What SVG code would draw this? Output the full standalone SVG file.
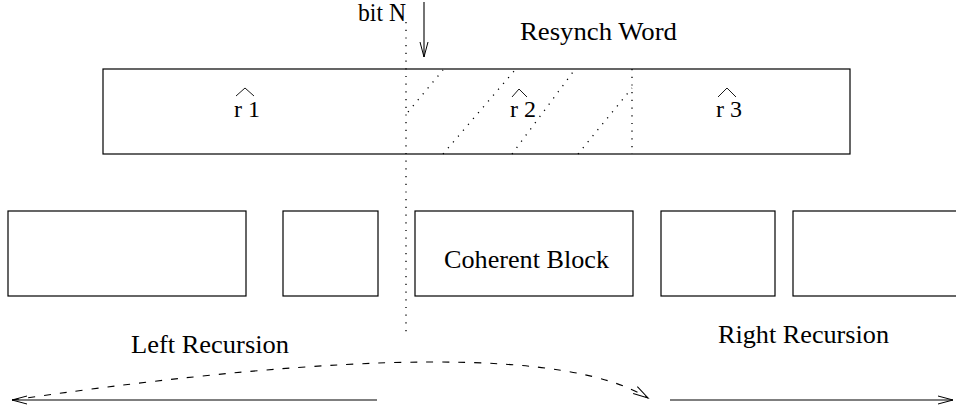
<svg xmlns="http://www.w3.org/2000/svg" width="956" height="408" viewBox="0 0 956 408">
<defs>
<style>
.box{fill:none;stroke:#000;stroke-width:1.2}
.lbl{font-family:"Liberation Serif","Times New Roman",serif;font-size:25px;fill:#000}
.rl{font-family:"Liberation Serif","Times New Roman",serif;font-size:24px;fill:#000}
.dot{fill:none;stroke:#000;stroke-width:1.3;stroke-dasharray:1.2 6.5}
.ln{fill:none;stroke:#000;stroke-width:1.1}
.dash{fill:none;stroke:#000;stroke-width:1.1;stroke-dasharray:7 9}
.hat{fill:none;stroke:#000;stroke-width:0.9}
</style>
<marker id="arr" markerWidth="18" markerHeight="12" refX="16" refY="5" orient="auto" markerUnits="userSpaceOnUse">
<path d="M1,1 L16,5 L1,9" fill="none" stroke="#000" stroke-width="1"/>
</marker>
</defs>
<g id="resynch-word">
<rect class="box" x="103" y="69" width="747" height="85"/>
<text class="lbl" x="520" y="40" textLength="157" lengthAdjust="spacingAndGlyphs">Resynch Word</text>
<text class="rl" x="234" y="117">r 1</text>
<path class="hat" d="M236,96 L245,88 L254,96"/>
<text class="rl" x="510" y="117">r 2</text>
<path class="hat" d="M512,97 L519,89 L527,97"/>
<text class="rl" x="716" y="117">r 3</text>
<path class="hat" d="M718,97 L727,88 L736,97"/>
<path class="dot" d="M632,69 L632,154"/>
<path class="dot" d="M408,112 L443,70"/>
<path class="dot" d="M443,154 L515,70"/>
<path class="dot" d="M512,154 L573,72"/>
<path class="dot" d="M578,154 L632,88"/>
</g>
<g id="box1"><rect class="box" x="8" y="211" width="238" height="85"/></g>
<g id="box2"><rect class="box" x="283" y="211" width="95" height="85"/></g>
<g id="coherent-block">
<rect class="box" x="415" y="211" width="218" height="85"/>
<text class="lbl" x="444" y="268" textLength="165" lengthAdjust="spacingAndGlyphs">Coherent Block</text>
</g>
<g id="box4"><rect class="box" x="661" y="211" width="114" height="85"/></g>
<g id="box5"><rect class="box" x="793" y="211" width="200" height="85"/></g>
<g id="bit-n">
<text class="lbl" x="358" y="21" textLength="48" lengthAdjust="spacingAndGlyphs">bit N</text>
</g>
<text class="lbl" x="131" y="353" textLength="158" lengthAdjust="spacingAndGlyphs">Left Recursion</text>
<text class="lbl" x="718" y="343" textLength="171" lengthAdjust="spacingAndGlyphs">Right Recursion</text>
<g id="connectors">
<path class="dot" d="M406,22 L406,336"/>
<path class="ln" d="M424,2 L424,57" marker-end="url(#arr)"/>
<path class="ln" d="M377,400 L12,400" marker-end="url(#arr)"/>
<path class="ln" d="M670,400 L953,400" marker-end="url(#arr)"/>
<path class="dash" d="M12,400 Q530,325 648,398" marker-end="url(#arr)"/>
</g>
</svg>
